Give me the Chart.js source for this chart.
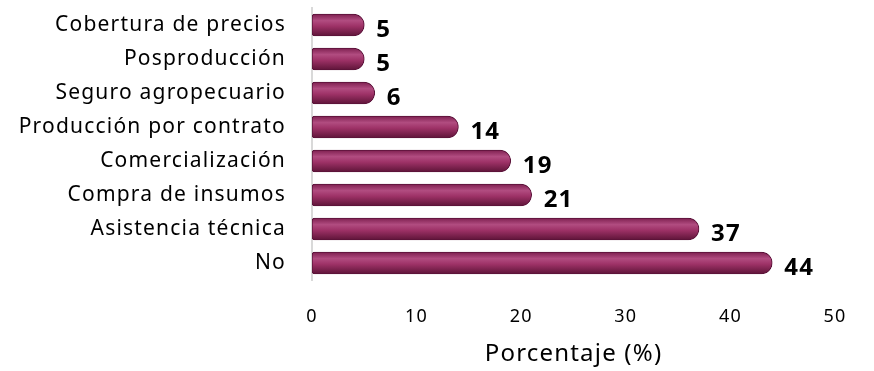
<!DOCTYPE html>
<html>
<head>
<meta charset="utf-8">
<script src="https://cdn.jsdelivr.net/npm/chart.js@4/dist/chart.umd.min.js"></script>
<style>
  body { margin: 0; background: #fff; }
</style>
</head>
<body>
<canvas id="chart" width="874" height="371"></canvas>
<script>
// categories top to bottom, values in percent
const categories = ["Cobertura de precios", "Posproducción", "Seguro agropecuario", "Producción por contrato",
  "Comercialización", "Compra de insumos", "Asistencia técnica", "No"];
const values = [5, 5, 6, 14, 19, 21, 37, 44];
const xTicks = [0, 10, 20, 30, 40, 50];

const BAR_H = 22;

// cylinder-like shading for each bar
function barFill(ctx) {
  const chart = ctx.chart;
  const yScale = chart.scales.y;
  if (!yScale || ctx.dataIndex === undefined) return "#9a2d63";
  const yc = yScale.getPixelForValue(ctx.dataIndex);
  if (!isFinite(yc)) return "#9a2d63";
  const g = chart.ctx.createLinearGradient(0, yc - BAR_H / 2, 0, yc + BAR_H / 2);
  g.addColorStop(0, "#7d1f4f");
  g.addColorStop(0.3, "#b14c80");
  g.addColorStop(0.55, "#9e3267");
  g.addColorStop(1, "#5e1438");
  return g;
}

// the original text is set a bit wider
const spacing = {
  id: "spacing",
  beforeUpdate(chart) { chart.ctx.letterSpacing = "1.2px"; },
  beforeDraw(chart) { chart.ctx.letterSpacing = "1.2px"; }
};

const valueLabels = {
  id: "valueLabels",
  afterDatasetsDraw(chart) {
    const ctx = chart.ctx;
    const meta = chart.getDatasetMeta(0);
    ctx.save();
    ctx.font = "bold 24px 'Noto Sans'";
    ctx.fillStyle = "#000";
    ctx.textBaseline = "middle";
    meta.data.forEach((bar, i) => {
      ctx.fillText(values[i], bar.x + 12, bar.y + 5);
    });
    ctx.restore();
  }
};

new Chart("chart", {
  type: "bar",
  data: {
    labels: categories,
    datasets: [{
      data: values,
      backgroundColor: barFill,
      borderColor: "#5a1239",
      borderWidth: 1,
      barThickness: BAR_H,
      borderRadius: { topLeft: 3, bottomLeft: 3, topRight: 11, bottomRight: 11 },
      borderSkipped: false
    }]
  },
  options: {
    indexAxis: "y",
    responsive: false,
    animation: false,
    layout: { padding: { top: 8, right: 39, bottom: 2, left: 0 } },
    plugins: { legend: { display: false }, tooltip: { enabled: false } },
    scales: {
      x: {
        min: 0,
        max: 50,
        afterBuildTicks: (axis) => { axis.ticks = xTicks.map(v => ({ value: v })); },
        grid: { display: false, drawTicks: false },
        border: { display: false },
        ticks: { color: "#000", font: { family: "Noto Sans", size: 18 }, padding: 26 },
        title: { display: true, text: "Porcentaje (%)", color: "#000",
          font: { family: "Noto Sans", size: 24 }, padding: { top: 0, bottom: 0 } },
        afterFit: (axis) => { axis.height = 89; axis.paddingLeft = 0; axis.paddingRight = 0; }
      },
      y: {
        grid: { display: false, drawTicks: false },
        border: { display: true, color: "#d9d9d9", width: 2 },
        ticks: { color: "#000", font: { family: "Noto Sans", size: 21 }, padding: 26 },
        afterFit: (axis) => { axis.width = 312; axis.paddingTop = 0; axis.paddingBottom = 0; }
      }
    }
  },
  plugins: [spacing, valueLabels]
});
</script>
</body>
</html>
